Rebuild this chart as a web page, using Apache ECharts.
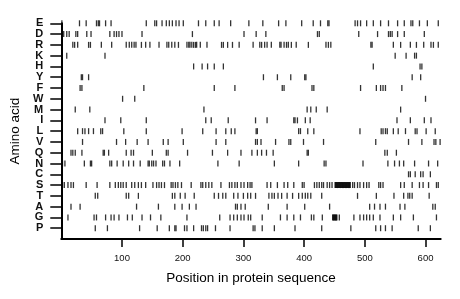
<!DOCTYPE html>
<html>
<head>
<meta charset="utf-8">
<script src="https://cdn.jsdelivr.net/npm/echarts@6.0.0/dist/echarts.min.js"></script>
<style>
html,body{margin:0;padding:0;background:#fff;}
#aa_chart{width:460px;height:299px;}
</style>
</head>
<body>
<div id="aa_chart"></div>
<script>
// amino acid rows, bottom to top ('' is an empty row under P so the axis starts there)
var letters = ['', 'P', 'G', 'A', 'T', 'S', 'C', 'N', 'Q', 'V', 'L', 'I', 'M', 'W', 'F', 'Y', 'H', 'K', 'R', 'D', 'E'];
var xTicks = [100, 200, 300, 400, 500, 600];

// positions of each residue in the sequence
var posE = [1,30,41,58,61,63,73,82,140,154,157,166,173,178,183,189,194,201,226,238,252,260,279,309,332,358,370,396,415,427,439,441,484,488,493,503,514,526,539,554,565,576,579,590,603,621];
var posD = [4,9,13,24,27,42,49,80,87,91,95,100,133,216,301,321,337,422,425,490,521,539,542,545,554,565,598];
var posR = [19,22,27,45,48,66,83,107,112,116,120,123,132,139,146,161,174,177,182,187,193,207,210,212,215,218,221,223,229,240,264,267,274,282,293,316,327,330,335,339,346,360,362,367,371,374,379,387,407,436,440,444,510,512,547,559,575,585,597,609,613,621];
var posK = [9,72,550,568,582,585];
var posH = [218,232,241,252,267,514,591,594];
var posY = [33,35,45,333,356,378,401,403,578,592];
var posF = [31,34,136,252,286,364,367,413,416,493,519,526,530,534,561];
var posW = [101,121,600];
var posM = [23,47,235,405,411,420,438,559];
var posI = [72,98,140,238,247,275,320,339,383,385,389,402,410,553,575,598,609];
var posL = [27,35,39,45,53,65,68,103,140,199,233,255,271,280,286,321,323,391,394,406,416,492,527,530,534,537,547,555,567,583,586,601,616];
var posV = [35,91,106,125,143,168,176,201,255,271,320,323,329,353,375,378,399,432,518,572,594,614,617,624];
var posQ = [16,19,23,34,69,71,78,107,115,119,150,173,176,208,249,274,296,314,323,330,338,349,405,407,533,537,552];
var posN = [2,6,38,48,50,80,83,92,102,111,119,130,143,145,149,152,156,167,170,179,195,258,293,351,391,433,436,497,538,549,557,564,582,605,620];
var posC = [572,575,583,592,596,608];
var posS = [2,5,11,16,20,41,59,80,89,94,98,102,107,116,121,127,132,139,151,157,161,165,170,181,184,188,192,198,214,230,233,238,243,248,263,277,281,286,290,296,301,307,311,314,339,345,356,367,373,383,397,400,417,421,425,429,432,438,442,446,
	451,452,453,454,455,456,457,458,459,460,461,462,463,464,465,466,467,468,469,470,471,472,473,474,475,476,
	480,483,488,492,498,503,507,523,526,530,559,565,578,590,596,605,618,621];
var posT = [56,60,107,111,127,183,187,196,204,219,252,259,266,271,284,291,300,307,312,320,342,347,351,357,363,372,381,391,397,402,406,411,429,488,519,548,564,571,574,578,606];
var posA = [16,31,124,160,187,199,211,222,287,290,296,303,341,372,401,442,508,516,525,534,558,566,612,616];
var posG = [11,54,58,73,82,87,95,109,117,133,147,164,207,261,278,284,290,296,301,308,312,331,361,372,383,394,412,416,430,447,448,449,450,451,452,453,454,458,482,492,498,503,508,514,525,547,559,580,618];
var posP = [56,76,129,158,178,187,189,203,207,218,231,234,238,241,254,278,316,319,331,351,385,429,477,518,526,534,545,588,608];

var aaChart;

window.onload = function(){
	myInit();
};

function myInit(){
	aaChart = echarts.init(document.getElementById("aa_chart"));
	option.series[0].data = buildPoints();
	aaChart.setOption(option);
}

//one point per residue: [position, letter]
function buildPoints(){
	var rows = {E:posE,D:posD,R:posR,K:posK,H:posH,Y:posY,F:posF,W:posW,M:posM,I:posI,
		L:posL,V:posV,Q:posQ,N:posN,C:posC,S:posS,T:posT,A:posA,G:posG,P:posP};
	var pts = [];
	for (var k in rows) {
		for (var i = 0; i < rows[k].length; i++) {
			pts.push([rows[k][i], k]);
		}
	}
	return pts;
}

var option = {
	animation: false,
	textStyle: {fontFamily: 'Liberation Sans, Arial, sans-serif'},
	grid: {left: 58.5, right: 19.3, top: 23.3, bottom: 60},
	xAxis: {
		type: 'value',
		min: 0,
		max: 625,
		interval: 100,
		name: 'Position in protein sequence',
		nameLocation: 'middle',
		nameGap: 32,
		nameTextStyle: {fontSize: 13.5, color: '#000'},
		splitLine: {show: false},
		axisLine: {show: true, lineStyle: {color: '#000', width: 2}},
		axisTick: {show: true, length: 8, customValues: xTicks, lineStyle: {color: '#000', width: 1.5}},
		axisLabel: {customValues: xTicks, fontSize: 9.5, color: '#111', margin: 14}
	},
	yAxis: {
		type: 'category',
		data: letters,
		boundaryGap: false,
		name: 'Amino acid',
		nameLocation: 'middle',
		nameGap: 34,
		nameRotate: 90,
		nameTextStyle: {fontSize: 13.5, color: '#000'},
		splitLine: {show: false},
		axisLine: {show: true, lineStyle: {color: '#000', width: 2}},
		axisTick: {
			show: true,
			length: 11,
			interval: function(idx){ return idx > 0; },
			lineStyle: {color: '#000', width: 1.5}
		},
		axisLabel: {
			interval: 0,
			fontSize: 11,
			fontWeight: 'bold',
			color: '#111',
			margin: 18
		}
	},
	series: [
		{
			type: 'scatter',
			symbol: 'rect',
			symbolSize: [1.3, 6],
			itemStyle: {color: '#000'},
			data: []
		}
	]
};
</script>
</body>
</html>
